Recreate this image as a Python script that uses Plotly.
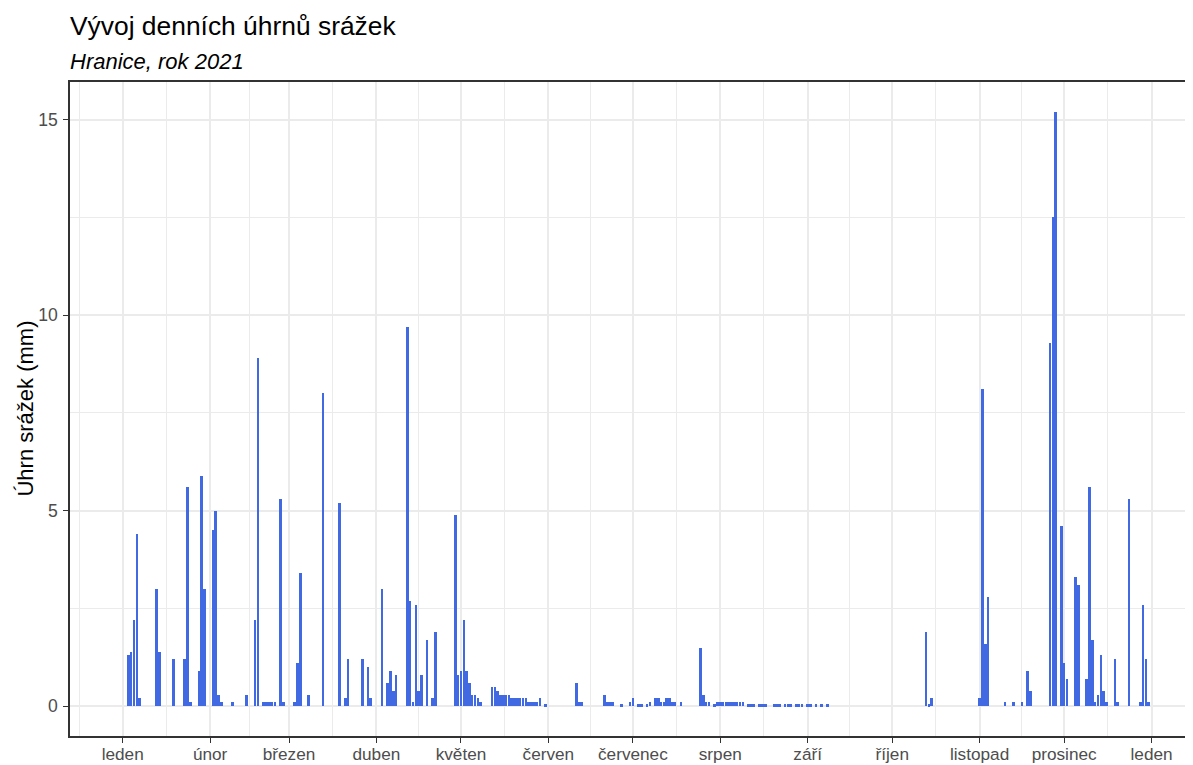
import plotly.graph_objects as go
import pandas as pd

# Daily precipitation totals (mm), Hranice 2021 - non-zero days
rain_dates = [
    "2021-01-03", "2021-01-04", "2021-01-05", "2021-01-06", "2021-01-07",
    "2021-01-13", "2021-01-14", "2021-01-19", "2021-01-23", "2021-01-24",
    "2021-01-25", "2021-01-28", "2021-01-29", "2021-01-30",
    "2021-02-02", "2021-02-03", "2021-02-04", "2021-02-05", "2021-02-09",
    "2021-02-14", "2021-02-17", "2021-02-18", "2021-02-20", "2021-02-21",
    "2021-02-22", "2021-02-23", "2021-02-24", "2021-02-26", "2021-02-27",
    "2021-03-03", "2021-03-04", "2021-03-05", "2021-03-08", "2021-03-13",
    "2021-03-19", "2021-03-21", "2021-03-22", "2021-03-27", "2021-03-29",
    "2021-03-30",
    "2021-04-03", "2021-04-05", "2021-04-06", "2021-04-07", "2021-04-08",
    "2021-04-12", "2021-04-13", "2021-04-14", "2021-04-15", "2021-04-16",
    "2021-04-17", "2021-04-19", "2021-04-21", "2021-04-22", "2021-04-29",
    "2021-04-30",
    "2021-05-01", "2021-05-02", "2021-05-03", "2021-05-04", "2021-05-05",
    "2021-05-06", "2021-05-07", "2021-05-08", "2021-05-12", "2021-05-13",
    "2021-05-14", "2021-05-15", "2021-05-16", "2021-05-17", "2021-05-18",
    "2021-05-19", "2021-05-20", "2021-05-21", "2021-05-22", "2021-05-23",
    "2021-05-24", "2021-05-25", "2021-05-26", "2021-05-27", "2021-05-28",
    "2021-05-29", "2021-05-31",
    "2021-06-11", "2021-06-12", "2021-06-13", "2021-06-21", "2021-06-22",
    "2021-06-23", "2021-06-24", "2021-06-27", "2021-06-30",
    "2021-07-01", "2021-07-03", "2021-07-04", "2021-07-06", "2021-07-07",
    "2021-07-09", "2021-07-10", "2021-07-11", "2021-07-12", "2021-07-13",
    "2021-07-14", "2021-07-15", "2021-07-16", "2021-07-18", "2021-07-25",
    "2021-07-26", "2021-07-27", "2021-07-28", "2021-07-30", "2021-07-31",
    "2021-08-01", "2021-08-02", "2021-08-03", "2021-08-04", "2021-08-05",
    "2021-08-06", "2021-08-07", "2021-08-08", "2021-08-09", "2021-08-11",
    "2021-08-12", "2021-08-13", "2021-08-15", "2021-08-16", "2021-08-17",
    "2021-08-20", "2021-08-21", "2021-08-22", "2021-08-24", "2021-08-25",
    "2021-08-26", "2021-08-28", "2021-08-29", "2021-08-30",
    "2021-09-01", "2021-09-02", "2021-09-04", "2021-09-06", "2021-09-08",
    "2021-10-13", "2021-10-14", "2021-10-15",
    "2021-11-01", "2021-11-02", "2021-11-03", "2021-11-04", "2021-11-10",
    "2021-11-13", "2021-11-16", "2021-11-18", "2021-11-19", "2021-11-26",
    "2021-11-27", "2021-11-28", "2021-11-30",
    "2021-12-01", "2021-12-02", "2021-12-05", "2021-12-06", "2021-12-09",
    "2021-12-10", "2021-12-11", "2021-12-12", "2021-12-13", "2021-12-14",
    "2021-12-15", "2021-12-16", "2021-12-19", "2021-12-20", "2021-12-24",
    "2021-12-28", "2021-12-29", "2021-12-30", "2021-12-31",
]

rain_mm = [
    1.3, 1.4, 2.2, 4.4, 0.2,
    3.0, 1.4, 1.2, 1.2, 5.6,
    0.1, 0.9, 5.9, 3.0,
    4.5, 5.0, 0.3, 0.1, 0.1,
    0.3, 2.2, 8.9, 0.1, 0.1,
    0.1, 0.1, 0.1, 5.3, 0.1,
    0.1, 1.1, 3.4, 0.3, 8.0,
    5.2, 0.2, 1.2, 1.2, 1.0,
    0.2,
    3.0, 0.6, 0.9, 0.4, 0.8,
    9.7, 2.7, 0.1, 2.6, 0.4,
    0.8, 1.7, 0.2, 1.9, 4.9,
    0.8,
    0.9, 2.2, 0.9, 0.6, 0.3,
    0.3, 0.2, 0.1, 0.5, 0.5,
    0.4, 0.3, 0.3, 0.3, 0.3,
    0.2, 0.2, 0.2, 0.2, 0.2,
    0.2, 0.1, 0.1, 0.1, 0.1,
    0.2, 0.05,
    0.6, 0.1, 0.1, 0.3, 0.1,
    0.1, 0.1, 0.05, 0.1,
    0.2, 0.05, 0.05, 0.05, 0.1,
    0.2, 0.2, 0.1, 0.1, 0.2,
    0.2, 0.1, 0.1, 0.1, 1.5,
    0.3, 0.1, 0.1, 0.05, 0.1,
    0.1, 0.1, 0.1, 0.1, 0.1,
    0.1, 0.1, 0.1, 0.1, 0.05,
    0.05, 0.05, 0.05, 0.05, 0.05,
    0.05, 0.05, 0.05, 0.05, 0.05,
    0.05, 0.05, 0.05, 0.05,
    0.05, 0.05, 0.05, 0.05, 0.05,
    1.9, 0.05, 0.2,
    0.2, 8.1, 1.6, 2.8, 0.1,
    0.1, 0.1, 0.9, 0.4, 9.3,
    12.5, 15.2, 4.6,
    1.1, 0.7, 3.3, 3.1, 0.7,
    5.6, 1.7, 0.1, 0.3, 1.3,
    0.4, 0.1, 1.2, 0.1, 5.3,
    0.1, 2.6, 1.2, 0.1,
]

month_starts = [
    "2021-01-01", "2021-02-01", "2021-03-01", "2021-04-01", "2021-05-01",
    "2021-06-01", "2021-07-01", "2021-08-01", "2021-09-01", "2021-10-01",
    "2021-11-01", "2021-12-01", "2022-01-01",
]
month_labels = [
    "leden", "únor", "březen", "duben", "květen", "červen", "červenec",
    "srpen", "září", "říjen", "listopad", "prosinec", "leden",
]
y_ticks = [0, 5, 10, 15]
y_minor = [2.5, 7.5, 12.5]

# --- axis layout helpers (ggplot-like expansion) ---
day = pd.Timedelta(days=1)
ms = pd.to_datetime(month_starts)
ext = [ms[0] - (ms[1] - ms[0])] + list(ms)
minor_x = [ext[i] + (ext[i + 1] - ext[i]) / 2 for i in range(len(ext) - 1)]

lo = pd.Timestamp("2021-01-01") - 0.45 * day
hi = pd.Timestamp("2021-12-31") + 0.45 * day
pad = 0.05 * (hi - lo)
x_start = lo - pad
x_end = x_start + 401.24 * day  # panel runs past the right edge of the picture

font_family = "Liberation Sans, Arial, sans-serif"

fig = go.Figure(
    go.Bar(
        x=rain_dates,
        y=rain_mm,
        width=0.9 * 86400000,
        marker=dict(color="#4169E1", line=dict(width=0)),
        hoverinfo="x+y",
    )
)

# the page body adds an 8 px offset; margins are set so the panel
# lands where it is in the reference
fig.update_layout(
    width=1193,
    height=757,
    margin=dict(l=62, r=0, t=74, b=29, autoexpand=False),
    paper_bgcolor="white",
    plot_bgcolor="white",
    showlegend=False,
    bargap=0,
    font=dict(family=font_family, color="black"),
    xaxis=dict(
        type="date",
        automargin=False,
        range=[x_start.isoformat(), x_end.isoformat()],
        tickmode="array",
        tickvals=month_starts,
        ticktext=month_labels,
        ticks="outside",
        ticklen=5,
        tickwidth=1,
        tickcolor="#333333",
        tickfont=dict(size=17.2, color="#4D4D4D", family=font_family),
        ticklabelstandoff=-3,
        showgrid=True,
        gridcolor="#EBEBEB",
        gridwidth=2,
        minor=dict(
            tickmode="array",
            tickvals=[t.isoformat() for t in minor_x],
            showgrid=True,
            gridcolor="#EBEBEB",
            gridwidth=1.2,
            ticks="",
        ),
        showline=True,
        linecolor="#333333",
        linewidth=1.5,
        mirror=True,
        zeroline=False,
    ),
    yaxis=dict(
        automargin=False,
        range=[-0.76, 15.96],
        tickmode="array",
        tickvals=y_ticks,
        ticks="outside",
        ticklen=5,
        tickwidth=1,
        tickcolor="#333333",
        tickfont=dict(size=17.6, color="#4D4D4D", family=font_family),
        ticklabelstandoff=2,
        showgrid=True,
        gridcolor="#EBEBEB",
        gridwidth=2,
        minor=dict(
            tickmode="array",
            tickvals=y_minor,
            showgrid=True,
            gridcolor="#EBEBEB",
            gridwidth=1.2,
            ticks="",
        ),
        showline=True,
        linecolor="#333333",
        linewidth=1.5,
        mirror=False,
        zeroline=False,
    ),
    annotations=[
        dict(
            text="Vývoj denních úhrnů srážek",
            xref="paper", yref="paper",
            x=-0.002, y=1.085,
            xanchor="left", yanchor="middle",
            showarrow=False,
            font=dict(size=26.4, color="black", family=font_family),
        ),
        dict(
            text="<i>Hranice, rok 2021</i>",
            xref="paper", yref="paper",
            x=-0.002, y=1.031,
            xanchor="left", yanchor="middle",
            showarrow=False,
            font=dict(size=22, color="black", family=font_family),
        ),
        dict(
            text="Úhrn srážek (mm)",
            xref="paper", yref="paper",
            x=-0.0402, y=0.5,
            xanchor="center", yanchor="middle",
            textangle=-90,
            showarrow=False,
            font=dict(size=22, color="black", family=font_family),
        ),
    ],
)

fig.write_html("out.html")
